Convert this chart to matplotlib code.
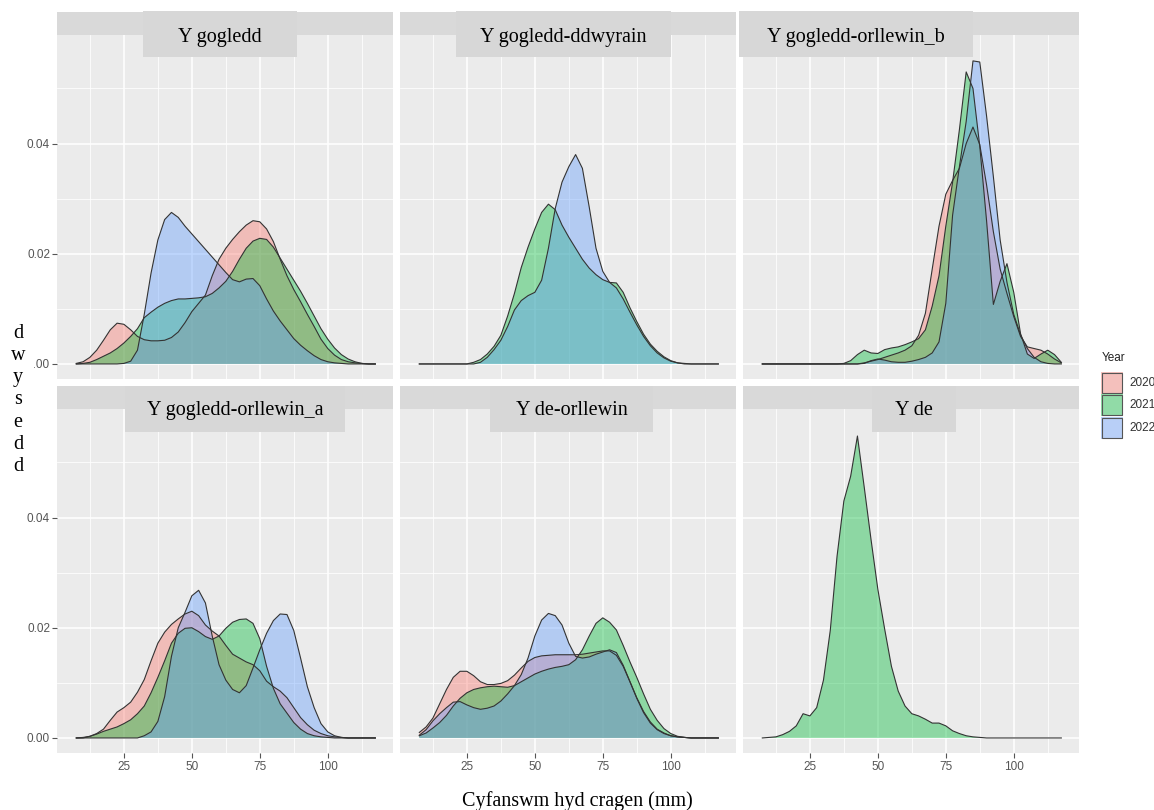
import numpy as np
import matplotlib
matplotlib.use("Agg")
import matplotlib.pyplot as plt
from matplotlib.patches import Rectangle

W, H = 1154, 810
SERIF = "Liberation Serif"
SANS = "Liberation Sans"

length_mm = [7.5, 10, 12.5, 15, 17.5, 20, 22.5, 25, 27.5, 30,
             32.5, 35, 37.5, 40, 42.5, 45, 47.5, 50, 52.5, 55,
             57.5, 60, 62.5, 65, 67.5, 70, 72.5, 75, 77.5, 80,
             82.5, 85, 87.5, 90, 92.5, 95, 97.5, 100, 102.5, 105,
             107.5, 110, 112.5, 115, 117.5]

years = ["2020", "2021", "2022"]
year_colors = ["#F8766D", "#00BA38", "#619CFF"]

regions = ["Y gogledd", "Y gogledd-ddwyrain", "Y gogledd-orllewin_b",
           "Y gogledd-orllewin_a", "Y de-orllewin", "Y de"]

x_ticks = [25, 50, 75, 100]
y_ticks = [0.0, 0.02, 0.04]
y_tick_labels = ["0.00", "0.02", "0.04"]

# Y gogledd
gogledd_2020 = [0.0001, 0.0004, 0.0012, 0.0025, 0.0043, 0.0062, 0.0074, 0.0072, 0.0062, 0.0050,
                0.0044, 0.0042, 0.0042, 0.0043, 0.0048, 0.0058, 0.0075, 0.0095, 0.0110, 0.0125,
                0.0160, 0.0190, 0.0210, 0.0226, 0.0240, 0.0252, 0.0260, 0.0258, 0.0245, 0.0222,
                0.0190, 0.0160, 0.0135, 0.0113, 0.0090, 0.0068, 0.0045, 0.0028, 0.0016, 0.0008,
                0.0004, 0.0002, 0.0001, 0, 0]
gogledd_2021 = [0, 0.0001, 0.0003, 0.0008, 0.0014, 0.0020, 0.0028, 0.0038, 0.0050, 0.0064,
                0.0084, 0.0094, 0.0103, 0.0110, 0.0115, 0.0118, 0.0118, 0.0119, 0.0120, 0.0122,
                0.0128, 0.0138, 0.0150, 0.0168, 0.0190, 0.0210, 0.0223, 0.0228, 0.0226, 0.0212,
                0.0192, 0.0172, 0.0152, 0.0132, 0.0110, 0.0087, 0.0064, 0.0045, 0.0029, 0.0017,
                0.0009, 0.0004, 0.0001, 0, 0]
gogledd_2022 = [0, 0, 0, 0, 0, 0, 0, 0.0001, 0.0005, 0.0025,
                0.0090, 0.0165, 0.0225, 0.0262, 0.0275, 0.0266, 0.0250, 0.0236, 0.0222, 0.0208,
                0.0194, 0.0180, 0.0166, 0.0153, 0.0149, 0.0154, 0.0155, 0.0142, 0.0118, 0.0096,
                0.0078, 0.0062, 0.0046, 0.0034, 0.0024, 0.0015, 0.0008, 0.0004, 0.0002, 0.0001,
                0, 0, 0, 0, 0]

# Y gogledd-ddwyrain (no 2020 records)
ddwyrain_2021 = [0, 0, 0, 0, 0, 0, 0, 0, 0.0003, 0.0008,
                 0.0018, 0.0032, 0.0052, 0.0087, 0.0128, 0.0175, 0.0212, 0.0245, 0.0275, 0.0290,
                 0.0280, 0.0252, 0.0230, 0.0210, 0.0190, 0.0174, 0.0162, 0.0153, 0.0148, 0.0147,
                 0.0130, 0.0102, 0.0077, 0.0054, 0.0036, 0.0023, 0.0013, 0.0006, 0.0002, 0.0001,
                 0, 0, 0, 0, 0]
ddwyrain_2022 = [0, 0, 0, 0, 0, 0, 0, 0, 0, 0.0003,
                 0.0012, 0.0026, 0.0043, 0.0068, 0.0098, 0.0115, 0.0124, 0.0130, 0.0152, 0.0210,
                 0.0282, 0.0330, 0.0358, 0.0380, 0.0355, 0.0285, 0.0210, 0.0168, 0.0148, 0.0138,
                 0.0118, 0.0094, 0.0071, 0.0050, 0.0033, 0.0020, 0.0011, 0.0005, 0.0002, 0,
                 0, 0, 0, 0, 0]

# Y gogledd-orllewin_b
orllewin_b_2020 = [0, 0, 0, 0, 0, 0, 0, 0, 0, 0,
                   0, 0, 0, 0, 0, 0.0002, 0.0005, 0.0008, 0.0012, 0.0016,
                   0.0020, 0.0025, 0.0033, 0.0052, 0.0092, 0.0172, 0.0250, 0.0308, 0.0333, 0.0355,
                   0.0400, 0.0430, 0.0398, 0.0325, 0.0240, 0.0172, 0.0128, 0.0086, 0.0050, 0.0031,
                   0.0028, 0.0025, 0.0018, 0.0009, 0.0002]
orllewin_b_2021 = [0, 0, 0, 0, 0, 0, 0, 0, 0, 0,
                   0, 0, 0.0001, 0.0006, 0.0017, 0.0025, 0.0020, 0.0019, 0.0026, 0.0029,
                   0.0031, 0.0035, 0.0040, 0.0046, 0.0062, 0.0105, 0.0160, 0.0250, 0.0330, 0.0425,
                   0.0530, 0.0500, 0.0395, 0.0260, 0.0108, 0.0150, 0.0182, 0.0130, 0.0055, 0.0018,
                   0.0010, 0.0018, 0.0025, 0.0017, 0.0003]
orllewin_b_2022 = [0, 0, 0, 0, 0, 0, 0, 0, 0, 0,
                   0, 0, 0, 0, 0, 0.0001, 0.0006, 0.0009, 0.0007, 0.0004,
                   0.0003, 0.0003, 0.0005, 0.0008, 0.0012, 0.0020, 0.0040, 0.0110, 0.0270, 0.0358,
                   0.0440, 0.0550, 0.0548, 0.0450, 0.0340, 0.0225, 0.0148, 0.0090, 0.0053, 0.0028,
                   0.0012, 0.0004, 0.0001, 0, 0]

# Y gogledd-orllewin_a
orllewin_a_2020 = [0, 0.0001, 0.0003, 0.0008, 0.0016, 0.0032, 0.0047, 0.0055, 0.0065, 0.0083,
                   0.0106, 0.0140, 0.0172, 0.0192, 0.0206, 0.0216, 0.0225, 0.0230, 0.0222, 0.0205,
                   0.0194, 0.0185, 0.0168, 0.0152, 0.0145, 0.0138, 0.0133, 0.0122, 0.0103, 0.0093,
                   0.0085, 0.0073, 0.0055, 0.0037, 0.0024, 0.0014, 0.0008, 0.0004, 0.0002, 0.0001,
                   0, 0, 0, 0, 0]
orllewin_a_2021 = [0, 0, 0.0003, 0.0007, 0.0012, 0.0016, 0.0020, 0.0026, 0.0033, 0.0044,
                   0.0058, 0.0082, 0.0110, 0.0140, 0.0172, 0.0190, 0.0199, 0.0200, 0.0193, 0.0184,
                   0.0179, 0.0185, 0.0199, 0.0210, 0.0215, 0.0216, 0.0208, 0.0180, 0.0130, 0.0090,
                   0.0062, 0.0045, 0.0028, 0.0016, 0.0008, 0.0004, 0.0002, 0.0001, 0, 0,
                   0, 0, 0, 0, 0]
orllewin_a_2022 = [0, 0, 0, 0, 0, 0, 0, 0, 0, 0,
                   0.0004, 0.0011, 0.0030, 0.0075, 0.0148, 0.0200, 0.0228, 0.0258, 0.0268, 0.0245,
                   0.0185, 0.0133, 0.0105, 0.0088, 0.0082, 0.0095, 0.0127, 0.0160, 0.0190, 0.0213,
                   0.0225, 0.0224, 0.0195, 0.0145, 0.0093, 0.0055, 0.0026, 0.0011, 0.0004, 0.0001,
                   0, 0, 0, 0, 0]

# Y de-orllewin
de_orllewin_2020 = [0.0010, 0.0020, 0.0036, 0.0062, 0.0088, 0.0110, 0.0121, 0.0121, 0.0113, 0.0102,
                    0.0097, 0.0097, 0.0099, 0.0104, 0.0114, 0.0127, 0.0139, 0.0146, 0.0149, 0.0150,
                    0.0151, 0.0151, 0.0151, 0.0151, 0.0152, 0.0154, 0.0156, 0.0158, 0.0158, 0.0150,
                    0.0130, 0.0102, 0.0072, 0.0046, 0.0027, 0.0015, 0.0008, 0.0004, 0.0002, 0.0001,
                    0, 0, 0, 0, 0]
de_orllewin_2021 = [0.0004, 0.0009, 0.0018, 0.0028, 0.0041, 0.0058, 0.0072, 0.0082, 0.0088, 0.0091,
                    0.0093, 0.0094, 0.0093, 0.0092, 0.0095, 0.0102, 0.0109, 0.0116, 0.0121, 0.0125,
                    0.0128, 0.0130, 0.0133, 0.0142, 0.0160, 0.0185, 0.0208, 0.0218, 0.0210, 0.0196,
                    0.0168, 0.0138, 0.0110, 0.0080, 0.0052, 0.0032, 0.0017, 0.0008, 0.0003, 0.0001,
                    0, 0, 0, 0, 0]
de_orllewin_2022 = [0.0005, 0.0015, 0.0031, 0.0044, 0.0055, 0.0065, 0.0066, 0.0060, 0.0055, 0.0052,
                    0.0054, 0.0058, 0.0067, 0.0080, 0.0095, 0.0115, 0.0145, 0.0185, 0.0214, 0.0226,
                    0.0222, 0.0205, 0.0172, 0.0148, 0.0145, 0.0147, 0.0152, 0.0156, 0.0160, 0.0155,
                    0.0132, 0.0102, 0.0073, 0.0048, 0.0029, 0.0016, 0.0009, 0.0004, 0.0002, 0.0001,
                    0, 0, 0, 0, 0]

# Y de (2021 only)
de_2021 = [0, 0.0001, 0.0002, 0.0006, 0.0012, 0.0022, 0.0044, 0.0040, 0.0055, 0.0105,
           0.0195, 0.0330, 0.0430, 0.0475, 0.0548, 0.0455, 0.0360, 0.0270, 0.0198, 0.0130,
           0.0085, 0.0058, 0.0044, 0.0040, 0.0034, 0.0027, 0.0027, 0.0022, 0.0013, 0.0008,
           0.0004, 0.0002, 0.0001, 0, 0, 0, 0, 0, 0, 0,
           0, 0, 0, 0, 0]

density = {
    "Y gogledd": [gogledd_2020, gogledd_2021, gogledd_2022],
    "Y gogledd-ddwyrain": [None, ddwyrain_2021, ddwyrain_2022],
    "Y gogledd-orllewin_b": [orllewin_b_2020, orllewin_b_2021, orllewin_b_2022],
    "Y gogledd-orllewin_a": [orllewin_a_2020, orllewin_a_2021, orllewin_a_2022],
    "Y de-orllewin": [de_orllewin_2020, de_orllewin_2021, de_orllewin_2022],
    "Y de": [None, de_2021, None],
}

# layout in pixels
col_left = [57, 400, 743]
row_top = [35, 409]
panel_w, panel_h = 336, 344
strip_h = 23
# overlay label boxes: (x0, x1, y0, y1, baseline)
label_boxes = [(143, 297, 11, 57, 42), (456, 671, 11, 57, 42), (739, 973, 11, 57, 42),
               (125, 345, 386, 432, 415), (490, 653, 386, 432, 415), (872, 956, 386, 432, 415)]


def fig_rect(x0, y0, x1, y1, **kw):
    return Rectangle((x0 / W, 1 - y1 / H), (x1 - x0) / W, (y1 - y0) / H,
                     transform=fig.transFigure, **kw)


fig = plt.figure(figsize=(W / 100, H / 100), dpi=100)
fig.patch.set_facecolor("white")

for i, region in enumerate(regions):
    r, c = divmod(i, 3)
    l, t = col_left[c], row_top[r]
    ax = fig.add_axes([l / W, 1 - (t + panel_h) / H, panel_w / W, panel_h / H])
    ax.set_facecolor("#EBEBEB")
    for s in ax.spines.values():
        s.set_visible(False)

    for series, col in zip(density[region], year_colors):
        if series is None:
            continue
        ax.fill_between(length_mm, series, 0, facecolor=col, alpha=0.4, linewidth=0)
        ax.plot(length_mm, series, color="#333333", linewidth=0.8)

    ax.set_xlim(0.4, 124.0)
    ax.set_ylim(-0.00273, 0.0597)
    ax.set_xticks(x_ticks)
    ax.set_xticks([12.5, 37.5, 62.5, 87.5, 112.5], minor=True)
    ax.set_yticks(y_ticks)
    ax.set_yticks([0.01, 0.03, 0.05], minor=True)
    ax.grid(which="major", color="white", linewidth=1.1)
    ax.grid(which="minor", color="white", linewidth=0.55)
    ax.set_axisbelow(True)
    ax.tick_params(which="minor", length=0)
    ax.tick_params(which="major", color="#555555", length=3.5, width=0.8,
                   labelsize=8.5, labelcolor="#555555")
    ax.tick_params(axis="y", pad=1.5)
    ax.tick_params(axis="x", pad=2.5)
    for lab in ax.get_xticklabels() + ax.get_yticklabels():
        lab.set_family(SANS)

    if c == 0:
        ax.set_yticklabels(y_tick_labels)
    else:
        ax.tick_params(axis="y", length=0, labelleft=False)
    if r == 1:
        ax.set_xticklabels([str(v) for v in x_ticks])
    else:
        ax.tick_params(axis="x", length=0, labelbottom=False)

    # grey facet strip
    fig.add_artist(fig_rect(l, t - strip_h, l + panel_w, t, facecolor="#D9D9D9",
                            edgecolor="none"))

# region names in boxes over the strips
for region, (x0, x1, y0, y1, base) in zip(regions, label_boxes):
    fig.add_artist(fig_rect(x0, y0, x1, y1, facecolor="#D7D7D7", edgecolor="none"))
    fig.text((x0 + x1) / 2 / W, 1 - base / H, region, ha="center", va="baseline",
             fontsize=14.5, family=SERIF, color="black")

# vertical axis title, letter by letter
fig.add_artist(fig_rect(0, 310, 34, 492, facecolor="white", edgecolor="none"))
fig.text(18 / W, 1 - 400 / H, "\n".join("dwysedd"), ha="center", va="center",
         fontsize=14.5, family=SERIF, linespacing=1.23)

fig.text(577 / W, 1 - 806 / H, "Cyfanswm hyd cragen (mm)", ha="center",
         va="baseline", fontsize=14.5, family=SERIF)

# legend
fig.text(1102 / W, 1 - 358 / H, "Year", ha="left", va="center", fontsize=8.5,
         family=SANS, color="#222222")
key_tops = [372, 394, 417]
for yr, col, kt in zip(years, year_colors, key_tops):
    fig.add_artist(fig_rect(1101, kt, 1123, kt + 22, facecolor="#F2F2F2", edgecolor="none"))
    fig.add_artist(fig_rect(1101, kt, 1123, kt + 22, facecolor=col, alpha=0.4,
                            edgecolor="none"))
    fig.add_artist(fig_rect(1102, kt + 1, 1122, kt + 21, facecolor="none",
                            edgecolor="#555555", linewidth=0.8))
    fig.text(1129 / W, 1 - (kt + 11) / H, yr, ha="left", va="center", fontsize=8.5,
             family=SANS, color="#333333")

fig.savefig("out.png", dpi=100)
